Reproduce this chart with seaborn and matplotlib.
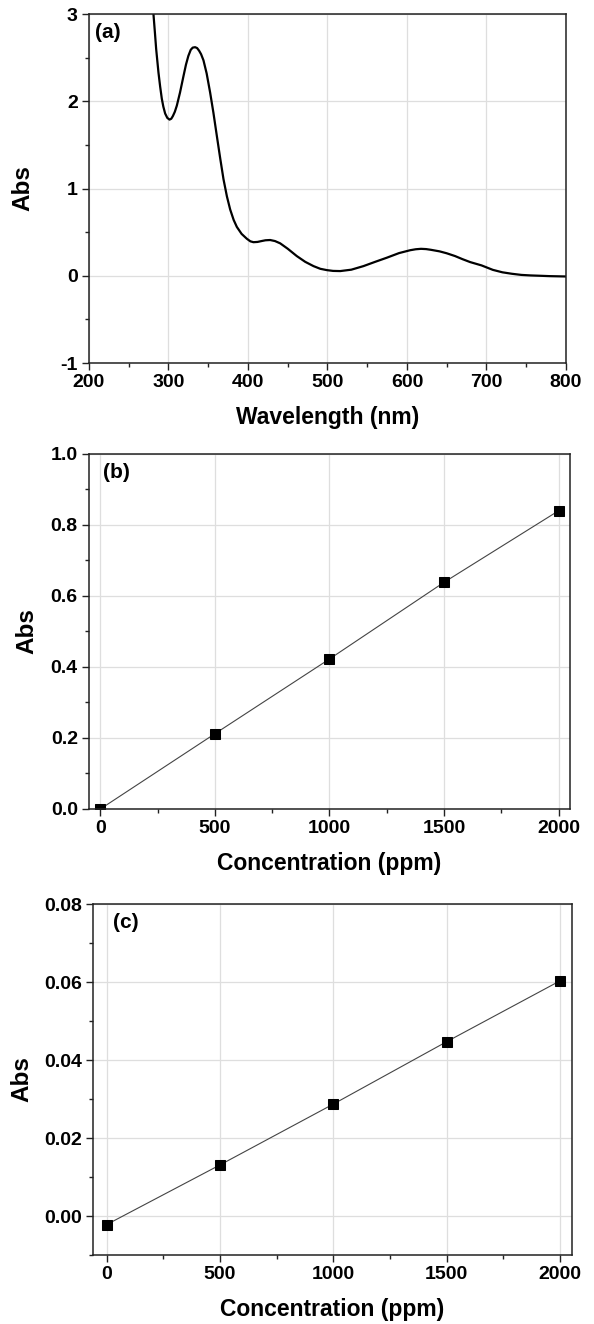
import numpy as np
import pandas as pd
import matplotlib
matplotlib.use("Agg")
import matplotlib.pyplot as plt
from matplotlib.ticker import MultipleLocator
import seaborn as sns

# (a) UV-vis spectrum
wavelength = [272, 276, 279, 281.1, 283, 284.5, 286, 287.4, 289.5, 291.6, 293.5, 295.8, 298.5,
              301.3, 303.5, 305.5, 308, 310.5, 314.5, 318.9, 322, 325, 328, 330.5, 333.5, 336,
              338.5, 341, 344, 348, 352.4, 356.5, 360.8, 365, 369.2, 373.5, 377.6,
              382, 386, 392, 398.5, 403, 406.9, 412, 417, 422, 427.9, 434, 440.5, 450, 461.4,
              472, 482.4, 491, 499.2, 507, 516, 530, 545.3, 560, 574.6, 590, 604, 611, 617.6,
              624, 630, 641, 650, 660.5, 670, 679.5, 693.8, 708, 720, 732, 744, 755.7, 768,
              779.5, 790, 800]
absorb = [5.0, 4.0, 3.4, 3.0, 2.78, 2.6, 2.46, 2.33, 2.17, 2.03, 1.94, 1.86, 1.81,
          1.79, 1.80, 1.83, 1.88, 1.95, 2.10, 2.29, 2.42, 2.52, 2.59, 2.615, 2.62, 2.61,
          2.58, 2.54, 2.47, 2.32, 2.10, 1.87, 1.605, 1.35, 1.107, 0.91, 0.76,
          0.64, 0.56, 0.48, 0.425, 0.395, 0.385, 0.388, 0.398, 0.407, 0.41, 0.398, 0.372, 0.31, 0.226,
          0.16, 0.111, 0.08, 0.065, 0.056, 0.054, 0.07, 0.111, 0.16, 0.207, 0.26, 0.293, 0.304, 0.309,
          0.306, 0.298, 0.28, 0.258, 0.226, 0.19, 0.157, 0.119, 0.068, 0.04, 0.023, 0.01, 0.004, 0.0,
          -0.004, -0.006, -0.008]

# (b) and (c) calibration points
conc = [0, 500, 1000, 1500, 2000]
abs_b = [0.0, 0.212, 0.4225, 0.6385, 0.840]
abs_c = [-0.0022, 0.0131, 0.0287, 0.0447, 0.0603]

sns.set_style("whitegrid", {"grid.color": "#dedede", "axes.edgecolor": "#222222"})
plt.rcParams['font.family'] = ['Liberation Sans', 'DejaVu Sans']
plt.rcParams['font.weight'] = 'bold'
plt.rcParams['axes.labelweight'] = 'bold'
plt.rcParams['axes.unicode_minus'] = False
plt.rcParams['text.color'] = 'black'
plt.rcParams['axes.labelcolor'] = 'black'
plt.rcParams['xtick.labelcolor'] = 'black'
plt.rcParams['ytick.labelcolor'] = 'black'

fig = plt.figure(figsize=(5.94, 13.24), dpi=100)
ax_a = fig.add_axes([0.1498, 0.7258, 0.8030, 0.2636])
ax_b = fig.add_axes([0.1498, 0.3890, 0.8098, 0.2681])
ax_c = fig.add_axes([0.1566, 0.0521, 0.8064, 0.2651])

spec = pd.DataFrame({'Wavelength': wavelength, 'Abs': absorb})
sns.lineplot(data=spec, x='Wavelength', y='Abs', ax=ax_a, color='black', linewidth=1.6)

cal_b = pd.DataFrame({'Concentration': conc, 'Abs': abs_b})
cal_c = pd.DataFrame({'Concentration': conc, 'Abs': abs_c})
for ax, df in [(ax_b, cal_b), (ax_c, cal_c)]:
    sns.lineplot(data=df, x='Concentration', y='Abs', ax=ax, color='#444444', linewidth=0.8,
                 marker='s', markersize=6.5, markerfacecolor='black', markeredgecolor='black')

ax_a.set_xlim(200, 800)
ax_a.set_ylim(-1, 3)
ax_a.xaxis.set_major_locator(MultipleLocator(100))
ax_a.xaxis.set_minor_locator(MultipleLocator(50))
ax_a.yaxis.set_major_locator(MultipleLocator(1))
ax_a.yaxis.set_minor_locator(MultipleLocator(0.5))
ax_a.set_xlabel('Wavelength (nm)')

ax_b.set_xlim(-50, 2050)
ax_b.set_ylim(0, 1.0)
ax_b.yaxis.set_major_locator(MultipleLocator(0.2))
ax_b.yaxis.set_minor_locator(MultipleLocator(0.1))
ax_b.yaxis.set_major_formatter(plt.FormatStrFormatter('%.1f'))

ax_c.set_xlim(-60, 2053)
ax_c.set_ylim(-0.01, 0.08)
ax_c.yaxis.set_major_locator(MultipleLocator(0.02))
ax_c.yaxis.set_minor_locator(MultipleLocator(0.01))
ax_c.yaxis.set_major_formatter(plt.FormatStrFormatter('%.2f'))

for ax in [ax_b, ax_c]:
    ax.xaxis.set_major_locator(MultipleLocator(500))
    ax.xaxis.set_minor_locator(MultipleLocator(250))
    ax.set_xlabel('Concentration (ppm)')

for ax, lab, lx in [(ax_a, '(a)', 0.013), (ax_b, '(b)', 0.029), (ax_c, '(c)', 0.041)]:
    ax.set_ylabel('Abs', fontsize=17.5)
    ax.xaxis.label.set_size(16.5)
    ax.xaxis.labelpad = 11
    ax.text(lx, 0.975, lab, transform=ax.transAxes, ha='left', va='top',
            fontsize=15, fontweight='bold')
    ax.tick_params(which='major', direction='out', length=5, width=1, labelsize=14,
                   pad=3, color='#222222', bottom=True, left=True)
    ax.tick_params(which='minor', direction='out', length=3, width=1, color='#222222',
                   bottom=True, left=True)
    ax.grid(True, which='major', color='#dedede', linewidth=0.9)
    ax.grid(False, which='minor')
    for s in ax.spines.values():
        s.set_linewidth(1.1)
        s.set_color('#222222')

ax_a.yaxis.set_label_coords(-0.115, 0.5)
ax_b.yaxis.set_label_coords(-0.106, 0.5)
ax_c.yaxis.set_label_coords(-0.125, 0.5)

fig.savefig('out.png', dpi=100)
